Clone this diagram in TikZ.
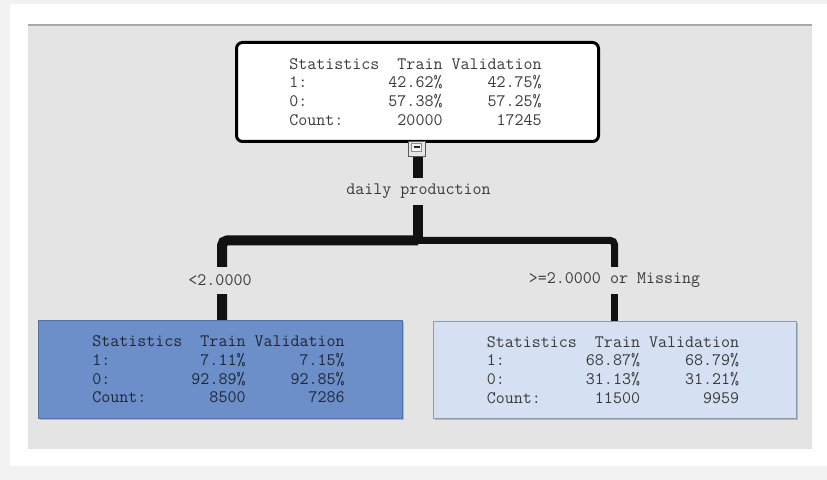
\documentclass[tikz,border=0pt]{standalone}
\usepackage{fontspec}
\usetikzlibrary{shadows}
\definecolor{bgc}{HTML}{F2F2F2}
\definecolor{panelc}{HTML}{E4E4E4}
\definecolor{panelline}{HTML}{A8A8A8}
\definecolor{txtc}{HTML}{3A3A3A}
\definecolor{leftfill}{HTML}{6C8FC9}
\definecolor{leftdraw}{HTML}{5272A8}
\definecolor{lefttxt}{HTML}{1E2636}
\definecolor{rightfill}{HTML}{D5E1F3}
\definecolor{rightdraw}{HTML}{8C9AB2}
\definecolor{connc}{HTML}{111111}
\newcommand\srow[3]{\makebox[10\fontcharwd\font`0][l]{#1}\makebox[7\fontcharwd\font`0][r]{#2}\makebox[11\fontcharwd\font`0][r]{#3}\hspace*{4bp}}
\tikzset{
  monof/.style={font=\ttfamily\fontsize{17.5bp}{18.7bp}\selectfont},
  statbox/.style={monof, rectangle, align=left, inner sep=0pt, anchor=center},
  topbox/.style={statbox, draw=black, line width=3bp, fill=white, rounded corners=6bp,
     minimum width=362bp, minimum height=99bp, text=txtc,
     drop shadow={shadow xshift=1bp, shadow yshift=-1.5bp, opacity=.35}},
  leftbox/.style={statbox, draw=leftdraw, line width=1bp, fill=leftfill,
     minimum width=364bp, minimum height=98bp, text=lefttxt,
     drop shadow={shadow xshift=1.5bp, shadow yshift=-1.5bp, opacity=.45}},
  rightbox/.style={statbox, draw=rightdraw, line width=1bp, fill=rightfill,
     minimum width=363bp, minimum height=97bp, text=txtc,
     drop shadow={shadow xshift=1.5bp, shadow yshift=-1.5bp, opacity=.45}},
  splitlbl/.style={monof, text=txtc, fill=panelc, inner xsep=2bp, inner ysep=0pt,
     minimum height=27bp},
  conn/.style={draw=connc, line width=10bp},
  connthin/.style={draw=connc, line width=7bp},
  btnbox/.style={draw=black!65, fill=black!10, line width=1bp, minimum width=17bp,
     minimum height=15bp, inner sep=0pt}
}
\begin{document}
\begin{tikzpicture}[x=1bp,y=-1bp]
\useasboundingbox (0,0) rectangle (827,480);
\fill[bgc] (0,0) rectangle (827,480);
\fill[white] (10,4) rectangle (827,466);
\fill[panelc] (28,24) rectangle (812,449);
\fill[panelline] (28,24) rectangle (812,26);

% nodes
\node[topbox] (root) at (417.5,92)
  {\srow{Statistics}{Train}{Validation}\\
   \srow{1:}{42.62\%}{42.75\%}\\
   \srow{0:}{57.38\%}{57.25\%}\\
   \srow{Count:}{20000}{17245}};
\node[leftbox] (lbox) at (220.5,369.5)
  {\srow{Statistics}{Train}{Validation}\\
   \srow{1:}{7.11\%}{7.15\%}\\
   \srow{0:}{92.89\%}{92.85\%}\\
   \srow{Count:}{8500}{7286}};
\node[rightbox] (rbox) at (615,370)
  {\srow{Statistics}{Train}{Validation}\\
   \srow{1:}{68.87\%}{68.79\%}\\
   \srow{0:}{31.13\%}{31.21\%}\\
   \srow{Count:}{11500}{9959}};

\node[splitlbl] (dp) at (418.5,191.5) {daily production};
\node[splitlbl] (lt) at (220,280.5) {<2.0000};
\node[splitlbl] (ge) at (614.5,280.5) {>=2.0000 or Missing};
\coordinate (split) at (418,240.5);

% connectors
\node[btnbox] (btn) at (416.5,149.5) {};
\draw[conn] ([xshift=1.5bp]btn.south) -- (dp.north -| split);
\draw[conn] (dp.south -| split) -- (split);
\draw[conn, rounded corners=5bp] (split) -| ([xshift=2bp]lt.north);
\draw[connthin, rounded corners=4bp] (split) -| (ge.north);
\draw[conn] ([xshift=2bp]lt.south) -- ([xshift=1.5bp]lbox.north);
\draw[connthin] (ge.south) -- (rbox.north -| ge.south);
% minus button glyph
\fill[white!96!black, draw=black!45, line width=.6bp] ([xshift=-5bp,yshift=-1.5bp]btn.north) rectangle ([xshift=5bp,yshift=-10bp]btn.north);
\draw[black!85, line width=1.6bp] ([xshift=-3bp,yshift=-5.5bp]btn.north) -- ([xshift=3bp,yshift=-5.5bp]btn.north);
\end{tikzpicture}
\end{document}
